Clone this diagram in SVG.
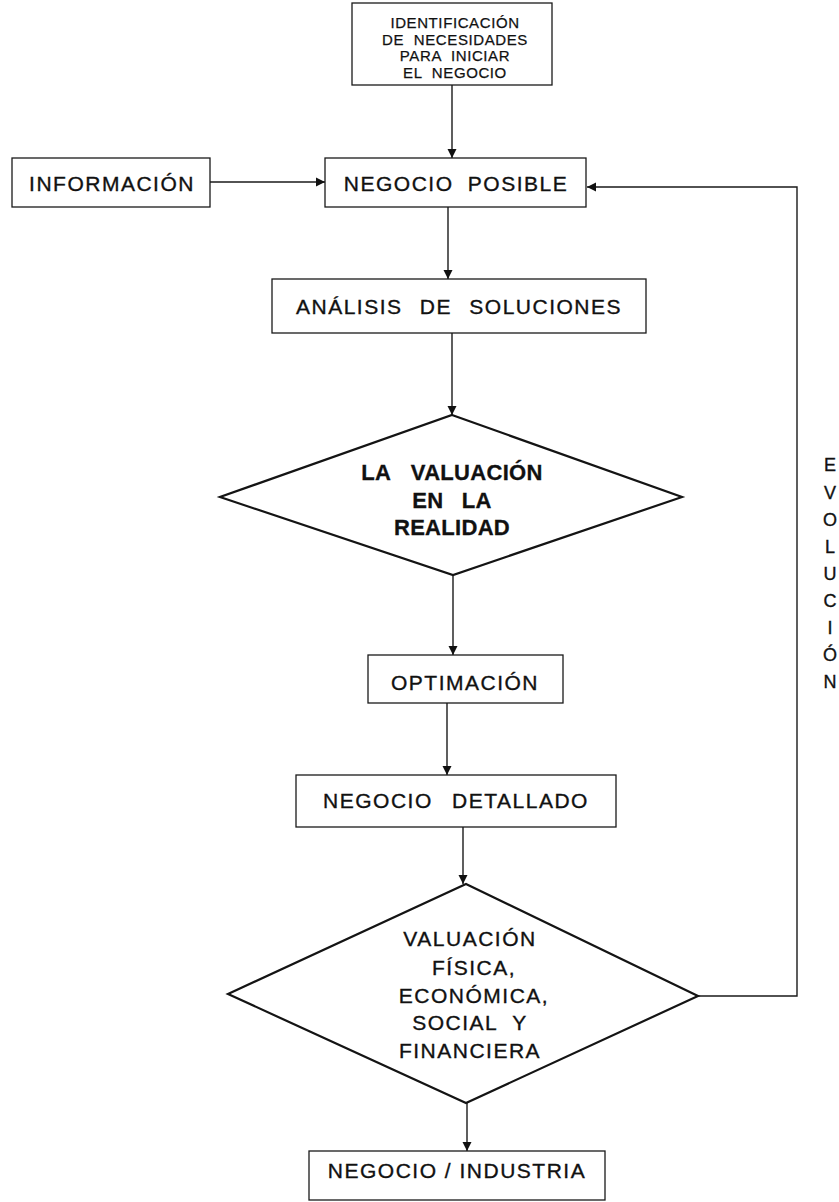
<svg xmlns="http://www.w3.org/2000/svg" width="839" height="1202" viewBox="0 0 839 1202">
  <style>
    .box { fill: none; stroke: #1a1a1a; stroke-width: 1.3; }
    .dia { fill: none; stroke: #141414; stroke-width: 2.2; stroke-linejoin: miter; }
    .wire { fill: none; stroke: #1a1a1a; stroke-width: 1.4; }
    .lbl { font-family: "Liberation Sans", Arial, sans-serif; font-size: 21px; fill: #111; stroke: #111; stroke-width: 0.35; text-anchor: middle; letter-spacing: 1.5px; }
    .small { font-size: 15px; letter-spacing: 0.6px; stroke-width: 0.25; }
    .bold { font-weight: bold; font-size: 22px; letter-spacing: 0.3px; stroke-width: 0.3; }
    .vert { font-size: 18px; letter-spacing: 0; }
  </style>
  <defs>
    <marker id="arrow" viewBox="0 0 10 10" refX="10" refY="5" markerWidth="9" markerHeight="10" markerUnits="userSpaceOnUse" orient="auto">
      <path d="M0,0 L10,5 L0,10 z" fill="#111"/>
    </marker>
  </defs>
  <rect width="839" height="1202" fill="#fff"/>

  <!-- connectors -->
  <g id="connectors">
    <line class="wire" x1="452" y1="85" x2="452" y2="158" marker-end="url(#arrow)"/>
    <line class="wire" x1="210" y1="182" x2="325" y2="182" marker-end="url(#arrow)"/>
    <line class="wire" x1="448" y1="207" x2="448" y2="279" marker-end="url(#arrow)"/>
    <line class="wire" x1="452" y1="333" x2="452" y2="415" marker-end="url(#arrow)"/>
    <line class="wire" x1="453" y1="575" x2="453" y2="655" marker-end="url(#arrow)"/>
    <line class="wire" x1="447" y1="703" x2="447" y2="775" marker-end="url(#arrow)"/>
    <line class="wire" x1="463" y1="827" x2="463" y2="884" marker-end="url(#arrow)"/>
    <line class="wire" x1="467" y1="1103" x2="467" y2="1151" marker-end="url(#arrow)"/>
    <!-- feedback loop back to the possible business -->
    <polyline class="wire" points="698,996 797,996 797,187 587,187" marker-end="url(#arrow)"/>
  </g>

  <g id="identificacion">
    <rect class="box" x="352" y="3" width="200" height="82"/>
    <text class="lbl small" x="455" y="28">IDENTIFICACIÓN</text>
    <text class="lbl small" x="455" y="44.5" word-spacing="5">DE NECESIDADES</text>
    <text class="lbl small" x="455" y="61" word-spacing="5">PARA INICIAR</text>
    <text class="lbl small" x="455" y="77.5" word-spacing="5">EL NEGOCIO</text>
  </g>

  <g id="informacion">
    <rect class="box" x="12" y="158" width="198" height="49"/>
    <text class="lbl" x="112" y="190.5" letter-spacing="2.2">INFORMACIÓN</text>
  </g>

  <g id="negocio-posible">
    <rect class="box" x="325" y="158" width="261" height="49"/>
    <text class="lbl" x="456" y="190.5" letter-spacing="2" word-spacing="7">NEGOCIO POSIBLE</text>
  </g>

  <g id="analisis">
    <rect class="box" x="272" y="279" width="374" height="54"/>
    <text class="lbl" x="459" y="313.5" letter-spacing="1.8" word-spacing="10">ANÁLISIS DE SOLUCIONES</text>
  </g>

  <g id="valuacion-realidad">
    <polygon class="dia" points="452,415 682,497 453,575 220,497"/>
    <text class="lbl bold" x="452" y="480" word-spacing="14">LA VALUACIÓN</text>
    <text class="lbl bold" x="452" y="508" word-spacing="12">EN LA</text>
    <text class="lbl bold" x="452" y="535">REALIDAD</text>
  </g>

  <g id="optimacion">
    <rect class="box" x="368" y="655" width="195" height="48"/>
    <text class="lbl" x="465" y="689.5">OPTIMACIÓN</text>
  </g>

  <g id="negocio-detallado">
    <rect class="box" x="296" y="775" width="320" height="52"/>
    <text class="lbl" x="456" y="808" letter-spacing="1.8" word-spacing="12">NEGOCIO DETALLADO</text>
  </g>

  <g id="valuacion-integral">
    <polygon class="dia" points="466,884 698,996 466,1103 228,994"/>
    <text class="lbl" x="470" y="946" letter-spacing="2.6">VALUACIÓN</text>
    <text class="lbl" x="474" y="975" letter-spacing="2.4">FÍSICA,</text>
    <text class="lbl" x="474" y="1003" letter-spacing="2.4">ECONÓMICA,</text>
    <text class="lbl" x="470" y="1030" letter-spacing="2.4" word-spacing="8">SOCIAL Y</text>
    <text class="lbl" x="470" y="1058" letter-spacing="2.4">FINANCIERA</text>
  </g>

  <g id="negocio-industria">
    <rect class="box" x="309" y="1151" width="296" height="49"/>
    <text class="lbl" x="457" y="1177.5" letter-spacing="2">NEGOCIO / INDUSTRIA</text>
  </g>

  <g id="evolucion">
    <text class="lbl vert" x="830" y="471">E</text>
    <text class="lbl vert" x="830" y="499">V</text>
    <text class="lbl vert" x="830" y="526">O</text>
    <text class="lbl vert" x="830" y="553">L</text>
    <text class="lbl vert" x="830" y="580">U</text>
    <text class="lbl vert" x="830" y="607">C</text>
    <text class="lbl vert" x="830" y="634">I</text>
    <text class="lbl vert" x="830" y="661">Ó</text>
    <text class="lbl vert" x="830" y="688">N</text>
  </g>
</svg>
